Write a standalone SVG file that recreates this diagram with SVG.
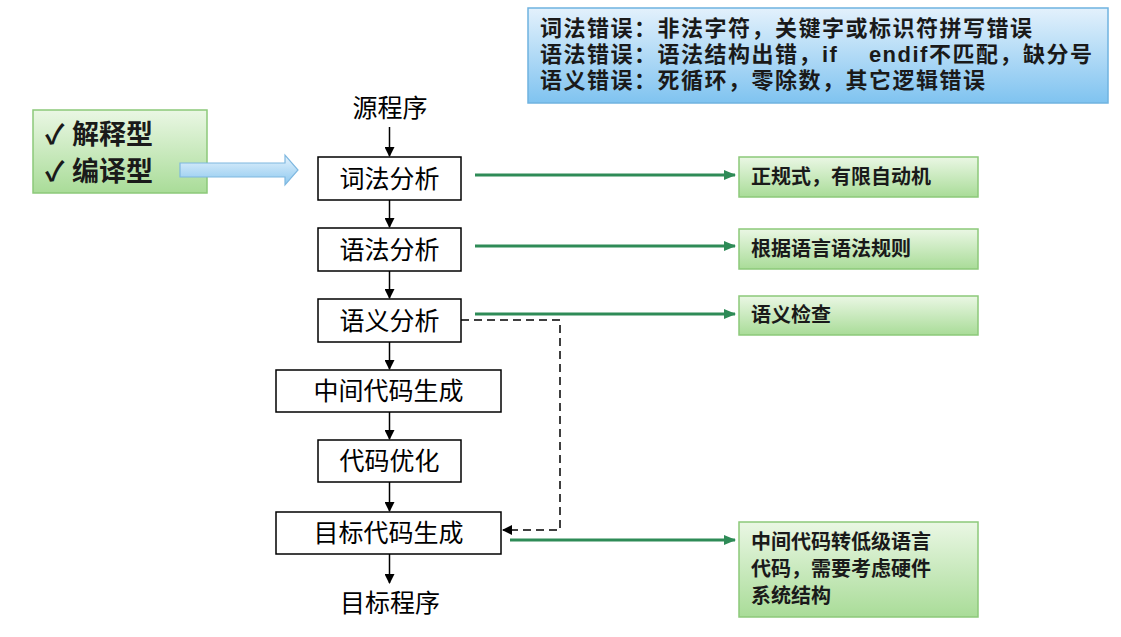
<svg xmlns="http://www.w3.org/2000/svg" width="1121" height="637" viewBox="0 0 1121 637">
<defs>
<linearGradient id="gg" x1="0" y1="0" x2="0" y2="1"><stop offset="0" stop-color="#eaf7e4"/><stop offset="1" stop-color="#a9dc98"/></linearGradient>
<linearGradient id="bg" x1="0" y1="0" x2="0" y2="1"><stop offset="0" stop-color="#e3f1fc"/><stop offset="1" stop-color="#7fc3f0"/></linearGradient>
<linearGradient id="ag" x1="0" y1="0" x2="0" y2="1"><stop offset="0" stop-color="#e6f3fd"/><stop offset="1" stop-color="#8cc8ef"/></linearGradient>
<marker id="blk" markerWidth="10" markerHeight="10" refX="9" refY="5" orient="auto" markerUnits="userSpaceOnUse"><path d="M0,0 L10,5 L0,10 Z" fill="#000"/></marker>
<marker id="grn" markerWidth="12" markerHeight="10" refX="11" refY="5" orient="auto" markerUnits="userSpaceOnUse"><path d="M0,0 L12,5 L0,10 Z" fill="#2e8b57"/></marker>
</defs>
<style>
.box{fill:#fff;stroke:#000;stroke-width:1.5}
.st{font-family:"Liberation Serif","Noto Sans CJK SC",serif;font-size:25px;text-anchor:middle}
.gb{fill:url(#gg);stroke:#8cc97a;stroke-width:1.5}
.bt{font-family:"Liberation Sans","Noto Sans CJK SC",sans-serif;font-weight:bold;fill:#1a1a1a}
.tb{letter-spacing:1.5px}
.v{stroke:#000;stroke-width:1.5;marker-end:url(#blk)}
.g{stroke:#2e8b57;stroke-width:3;marker-end:url(#grn)}
</style>
<rect width="1121" height="637" fill="#fff"/>
<g id="errors"><rect x="528" y="8" width="580" height="95" fill="url(#bg)" stroke="#6fb3e0" stroke-width="1.5"/>
<text class="bt tb" font-size="22" x="540" y="36">词法错误：非法字符，关键字或标识符拼写错误</text>
<text class="bt tb" font-size="22" x="540" y="62" xml:space="preserve">语法错误：语法结构出错，if    endif不匹配，缺分号</text>
<text class="bt tb" font-size="22" x="540" y="88">语义错误：死循环，零除数，其它逻辑错误</text></g>
<g id="types"><rect class="gb" x="33" y="110" width="174" height="83"/>
<text class="bt" font-size="27" x="45" y="144">✓ 解释型</text>
<text class="bt" font-size="27" x="45" y="181">✓ 编译型</text></g>
<g id="bigarrow"><path d="M180,163 L285,163 L285,155 L298,170 L285,185 L285,177 L180,177 Z" fill="url(#ag)" stroke="#7fb8e0" stroke-width="1.2"/></g>
<g id="src"><text class="st" x="390" y="117">源程序</text></g>
<g id="n1"><rect class="box" x="318" y="157" width="143" height="43"/><text class="st" x="389.5" y="188">词法分析</text></g>
<g id="n2"><rect class="box" x="318" y="228" width="143" height="43"/><text class="st" x="389.5" y="259">语法分析</text></g>
<g id="n3"><rect class="box" x="318" y="299" width="143" height="43"/><text class="st" x="389.5" y="330">语义分析</text></g>
<g id="n4"><rect class="box" x="276" y="370" width="225" height="42"/><text class="st" x="388.5" y="400">中间代码生成</text></g>
<g id="n5"><rect class="box" x="318" y="440" width="143" height="42"/><text class="st" x="389.5" y="470">代码优化</text></g>
<g id="n6"><rect class="box" x="276" y="512" width="225" height="42"/><text class="st" x="388.5" y="542">目标代码生成</text></g>
<g id="dst"><text class="st" x="390" y="612">目标程序</text></g>
<g id="r1"><rect class="gb" x="739" y="157" width="239" height="40"/><text class="bt" font-size="20" x="751" y="184">正规式，有限自动机</text></g>
<g id="r2"><rect class="gb" x="739" y="229" width="239" height="40"/><text class="bt" font-size="20" x="751" y="256">根据语言语法规则</text></g>
<g id="r3"><rect class="gb" x="739" y="296" width="239" height="39"/><text class="bt" font-size="20" x="751" y="322">语义检查</text></g>
<g id="r4"><rect class="gb" x="739" y="522" width="239" height="95"/><text class="bt" font-size="20" x="751" y="549">中间代码转低级语言</text><text class="bt" font-size="20" x="751" y="576">代码，需要考虑硬件</text><text class="bt" font-size="20" x="751" y="603">系统结构</text></g>
<g id="connectors" fill="none">
<line class="v" x1="389.5" y1="127" x2="389.5" y2="156"/>
<line class="v" x1="389.5" y1="200" x2="389.5" y2="227"/>
<line class="v" x1="389.5" y1="271" x2="389.5" y2="298"/>
<line class="v" x1="389.5" y1="342" x2="389.5" y2="369"/>
<line class="v" x1="389.5" y1="412" x2="389.5" y2="439"/>
<line class="v" x1="389.5" y1="482" x2="389.5" y2="511"/>
<line class="v" x1="389.5" y1="554" x2="389.5" y2="583"/>
<line class="g" x1="475" y1="175" x2="735" y2="175"/>
<line class="g" x1="475" y1="246" x2="735" y2="246"/>
<line class="g" x1="475" y1="314" x2="735" y2="314"/>
<line class="g" x1="510" y1="540" x2="735" y2="540"/>
<path d="M461,320 L560,320 L560,530 L503,530" stroke="#000" stroke-width="1.5" stroke-dasharray="8,5" marker-end="url(#blk)"/>
</g>
</svg>
